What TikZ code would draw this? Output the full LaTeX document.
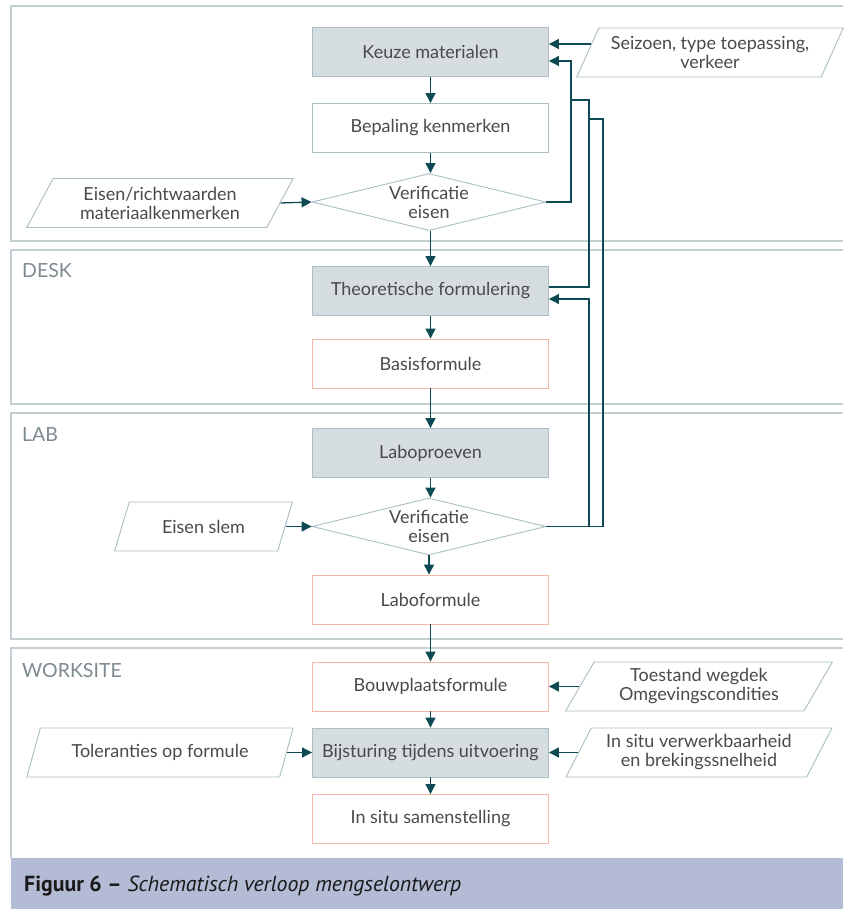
\documentclass[tikz,border=0pt]{standalone}
\usepackage{fontspec}
\setmainfont{Lato}
\newfontfamily\capfont{PT Sans}
\usetikzlibrary{arrows.meta,shapes.geometric,calc}
\definecolor{arrowc}{HTML}{0D4A54}
\definecolor{framec}{HTML}{C3CFD3}
\definecolor{greyfill}{HTML}{D5DDE0}
\definecolor{greyline}{HTML}{A9BEC3}
\definecolor{salmon}{HTML}{F4B6A6}
\definecolor{textc}{HTML}{4A4A4A}
\definecolor{labelc}{HTML}{7D8A8F}
\definecolor{capfill}{HTML}{B3BBD5}
\tikzset{
  boxtext/.style={font=\fontsize{18}{19}\selectfont, text=textc, align=center},
  box/.style={rectangle, boxtext, minimum width=236pt, minimum height=49pt, inner sep=0pt, line width=0.9pt},
  greybox/.style={box, fill=greyfill, draw=greyline},
  whitebox/.style={box, fill=white, draw=greyline},
  salmonbox/.style={box, fill=white, draw=salmon},
  dec/.style={diamond, draw=greyline, line width=0.9pt, fill=white, minimum width=234pt, minimum height=57pt, inner sep=0pt, aspect=4.1},
  para/.style={trapezium, trapezium left angle=58.5, trapezium right angle=121.5, trapezium stretches=true,
    draw=greyline, line width=0.9pt, fill=white, minimum width=267pt, minimum height=49pt, inner sep=0pt, boxtext},
  arr/.style={draw=arrowc, line width=1.3pt, -{Triangle[length=10pt,width=10pt]}},
  fb/.style={draw=arrowc, line width=1.1pt},
  fba/.style={fb, -{Triangle[length=10pt,width=10pt]}},
  frame/.style={draw=framec, line width=1.2pt},
  zonelabel/.style={font=\fontsize{19.5}{21}\selectfont, text=labelc, anchor=base west, inner sep=0pt}
}
\begin{document}
\begin{tikzpicture}[x=1pt,y=-1pt]
\useasboundingbox (0,0) rectangle (843,909);
% frames
\draw[frame] (843,6) -- (11,6) -- (11,241) -- (843,241);
\draw[frame] (843,250) -- (11,250) -- (11,404) -- (843,404);
\draw[frame] (843,413) -- (11,413) -- (11,639) -- (843,639);
\draw[frame] (843,648) -- (11,648) -- (11,858);
\fill[capfill] (11,858) rectangle (843,909);
\node[font=\capfont\fontsize{21.8}{23}\selectfont, text=black!90, anchor=base west, inner sep=0pt] (cap) at (24,891)
  {\textbf{Figuur 6 –} \textit{Schematisch verloop mengselontwerp}};
% zone labels
\node[zonelabel] (desk) at (22,277) {DESK};
\node[zonelabel] (lab) at (22,441) {LAB};
\node[zonelabel] (work) at (22,677) {WORKSITE};
% main column
\node[greybox] (k) at (430.5,52) {Keuze materialen};
\node[whitebox] (b) at (430.5,128) {Bepaling kenmerken};
\node[dec, label={[boxtext]center:Verificatie\\eisen}] (v1) at (429,202) {};
\node[greybox] (t) at (430.5,291) {Theoretische formulering};
\node[salmonbox] (bf) at (430.5,363.5) {Basisformule};
\node[greybox] (l) at (430.5,453) {Laboproeven};
\node[dec, label={[boxtext]center:Verificatie\\eisen}] (v2) at (429,526.5) {};
\node[salmonbox] (lf) at (430.5,599.5) {Laboformule};
\node[salmonbox] (bp) at (430.5,686.5) {Bouwplaatsformule};
\node[greybox] (bs) at (430.5,752.5) {Bijsturing tijdens uitvoering};
\node[salmonbox] (is) at (430.5,819) {In situ samenstelling};
% inputs
\node[para] (s) at (710,52.5) {Seizoen, type toepassing,\\verkeer};
\node[para] (e1) at (160,203) {Eisen/richtwaarden\\materiaalkenmerken};
\node[para, minimum width=179pt] (e2) at (203.5,526.5) {Eisen slem};
\node[para] (tw) at (699,686.5) {Toestand wegdek\\Omgevingscondities};
\node[para] (to) at (160,752.5) {Toleranties op formule};
\node[para] (iv) at (699,752.5) {In situ verwerkbaarheid\\en brekingssnelheid};
% main flow
\draw[arr] (k) -- (b);
\draw[arr] (b) -- (v1.north -| b);
\draw[arr] (v1.south -| b) -- (t);
\draw[arr] (t) -- (bf);
\draw[arr] (bf) -- (l);
\draw[arr] (l) -- (v2.north -| l);
\draw[arr] (v2.south) -- (v2.south |- lf.north);
\draw[arr] (lf) -- (bp);
\draw[arr] (bp) -- (bs);
\draw[arr] (bs) -- (is);
% input arrows
\coordinate (sin) at ($(s.top left corner)!0.33!(s.bottom left corner)$);
\draw[arr] (sin) -- (sin -| k.east);
\draw[arr] (e1.right side) -- (v1.west);
\draw[arr] (e2.right side) -- (v2.west);
\draw[arr] (tw.left side) -- (bp.east);
\draw[arr] (to.right side) -- (bs.west);
\draw[arr] (iv.left side) -- (bs.east);
% feedback loops
\coordinate (ax) at (571,0);
\coordinate (bx) at (589,0);
\coordinate (cx) at (603,0);
\coordinate (j1) at (571,100);
\coordinate (j2) at (589,119);
\coordinate (kin) at ($(k.east)+(0,9)$);
\coordinate (tout) at ($(t.east)+(0,-4)$);
\coordinate (tin) at ($(t.east)+(0,8)$);
\draw[fba] (v1.east) -- (v1.east -| ax) |- (kin);
\draw[fb] (tout) -- (tout -| bx) |- (j1);
\draw[fba] (v2.east) -- (v2.east -| bx) |- (tin);
\draw[fb] (v2.east) -- (v2.east -| cx) |- (j2);
\end{tikzpicture}
\end{document}
